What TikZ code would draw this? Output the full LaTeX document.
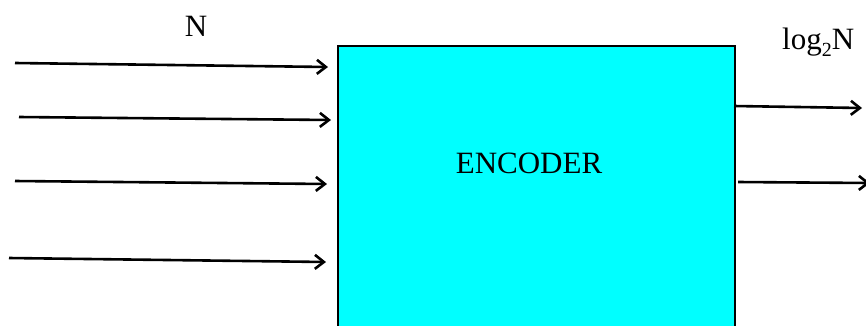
\documentclass[tikz,border=0pt]{standalone}
\usepackage{fontspec}
\setmainfont{Liberation Serif}
\usetikzlibrary{arrows.meta}
\definecolor{boxcyan}{RGB}{0,255,255}
\begin{document}
\begin{tikzpicture}[x=1pt,y=-1pt,
  lbl/.style={inner sep=0pt,font=\fontsize{31}{36}\selectfont},
  sig/.style={line width=2.6pt,-{Straight Barb[length=9pt,width=14pt,line width=2.6pt]}},
  blk/.style={draw,line width=2.4pt,fill=boxcyan,inner sep=0pt,anchor=north west}]
\useasboundingbox (0,0) rectangle (866,325);
\clip (0,0) rectangle (866,325);
\node[blk,minimum width=397pt,minimum height=300pt] (enc) at (337,45) {};
\node[lbl,anchor=base] (enctxt) at (529,173) {ENCODER};
\node[lbl,anchor=base] (nlbl) at (196,36) {N};
\node[lbl,anchor=base west] (loglbl) at (782,49) {log\raisebox{-7pt}{\fontsize{20}{24}\selectfont 2}N};
% inputs
\coordinate (a1) at (15,63);  \coordinate (b1) at (328,67);
\coordinate (a2) at (19,117); \coordinate (b2) at (331,120);
\coordinate (a3) at (15,181); \coordinate (b3) at (327,184);
\coordinate (a4) at (9,258);  \coordinate (b4) at (326,262);
\draw[sig] (a1) -- (b1);
\draw[sig] (a2) -- (b2);
\draw[sig] (a3) -- (b3);
\draw[sig] (a4) -- (b4);
% outputs
\coordinate (c1) at (734,106); \coordinate (d1) at (862,108);
\coordinate (c2) at (738,182); \coordinate (d2) at (870,183);
\draw[sig] (c1) -- (d1);
\draw[sig] (c2) -- (d2);
\end{tikzpicture}
\end{document}
